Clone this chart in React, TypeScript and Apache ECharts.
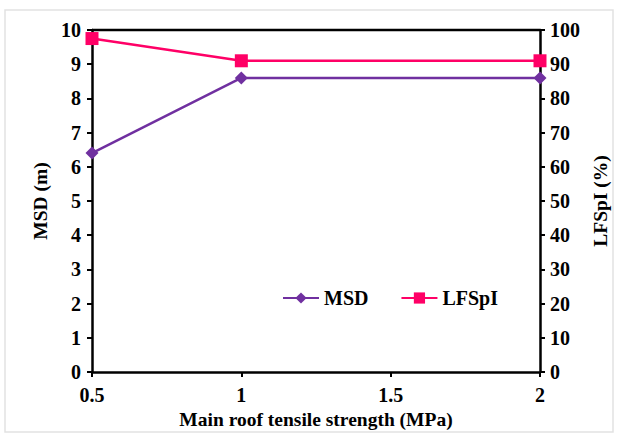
import React, { useEffect, useRef } from "react";
import * as echarts from "echarts";

const xValues = [0.5, 1, 2];
const msdValues = [6.4, 8.6, 8.6];
const lfspiValues = [97.5, 91, 91];
const xTicks = [0.5, 1, 1.5, 2];

const FONT = "'Liberation Serif', 'Times New Roman', serif";

export default function App() {
  const ref = useRef<HTMLDivElement>(null);
  useEffect(() => {
    document.body.style.margin = "0";
    const chart = echarts.init(ref.current!, null, { renderer: "svg" });
    const axisLine = { show: true, lineStyle: { color: "#000", width: 2.5 } };
    const axisTick = { show: true, inside: false, length: 5, lineStyle: { color: "#000", width: 2 } };
    const label = { color: "#000", fontFamily: FONT, fontWeight: "bold", fontSize: 20 };
    const nameStyle = { color: "#000", fontFamily: FONT, fontWeight: "bold", fontSize: 19.5 };
    chart.setOption({
      animation: false,
      backgroundColor: "#fff",
      graphic: [
        {
          type: "rect",
          shape: { x: 5, y: 10, width: 608, height: 422 },
          style: { fill: "none", stroke: "#e2e2e2", lineWidth: 1.5 },
          silent: true,
        },
        {
          type: "line",
          shape: { x1: 92, y1: 30, x2: 540, y2: 30 },
          style: { stroke: "#000", lineWidth: 2.5 },
          silent: true,
        },
      ],
      grid: { left: 92, right: 79, top: 30, bottom: 66, containLabel: false },
      legend: {
        left: 277,
        top: 283,
        itemWidth: 36,
        itemHeight: 14,
        itemGap: 32,
        textStyle: { color: "#000", fontFamily: FONT, fontWeight: "bold", fontSize: 20 },
        data: ["MSD", "LFSpI"],
      },
      xAxis: {
        type: "value",
        min: 0.5,
        max: 2,
        interval: 0.5,
        axisLine,
        axisTick,
        splitLine: { show: false },
        axisLabel: { ...label, margin: 13, formatter: (v: number) => (xTicks.includes(v) ? String(v) : "") },
        name: "Main roof tensile strength (MPa)",
        nameLocation: "middle",
        nameGap: 35,
        nameTextStyle: nameStyle,
      },
      yAxis: [
        {
          type: "value",
          min: 0,
          max: 10,
          interval: 1,
          position: "left",
          axisLine,
          axisTick,
          splitLine: { show: false },
          axisLabel: { ...label, margin: 11 },
          name: "MSD (m)",
          nameLocation: "middle",
          nameRotate: 90,
          nameGap: 31,
          nameTextStyle: nameStyle,
        },
        {
          type: "value",
          min: 0,
          max: 100,
          interval: 10,
          position: "right",
          axisLine,
          axisTick,
          splitLine: { show: false },
          axisLabel: { ...label, margin: 10 },
          name: "LFSpI (%)",
          nameLocation: "middle",
          nameRotate: 90,
          nameGap: 50,
          nameTextStyle: nameStyle,
        },
      ],
      series: [
        {
          name: "MSD",
          type: "line",
          yAxisIndex: 0,
          data: xValues.map((x, i) => [x, msdValues[i]]),
          symbol: "diamond",
          symbolSize: 13,
          lineStyle: { color: "#7030A0", width: 2.5 },
          itemStyle: { color: "#7030A0" },
        },
        {
          name: "LFSpI",
          type: "line",
          yAxisIndex: 1,
          data: xValues.map((x, i) => [x, lfspiValues[i]]),
          symbol: "rect",
          symbolSize: 13,
          lineStyle: { color: "#FF0066", width: 2.5 },
          itemStyle: { color: "#FF0066" },
        },
      ],
    });
    return () => chart.dispose();
  }, []);
  return <div ref={ref} style={{ width: 619, height: 438 }} />;
}
